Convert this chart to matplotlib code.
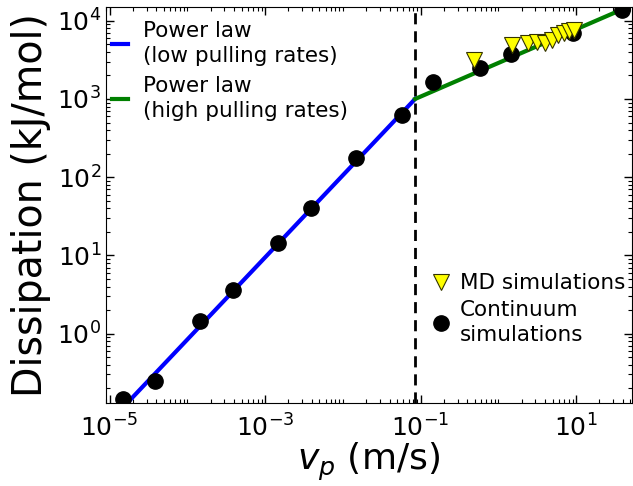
import matplotlib
matplotlib.use("Agg")
import matplotlib.pyplot as plt
import numpy as np
from matplotlib.lines import Line2D
from matplotlib.ticker import LogLocator, FixedLocator, NullFormatter

# Continuum simulations
cont_v = [1.5e-5, 3.85e-5, 1.46e-4, 3.9e-4, 1.47e-3, 3.9e-3, 0.0148, 0.058,
          0.145, 0.58, 1.46, 9.1, 39]
cont_d = [0.147, 0.25, 1.43, 3.66, 14.3, 40, 175, 624,
          1650, 2500, 3780, 7000, 13800]

# MD simulations
md_v = [0.49, 1.5, 2.42, 3.15, 4.0, 4.9, 5.9, 7.0, 8.1, 9.4]
md_d = [3160, 4920, 5220, 5380, 5220, 5700, 6620, 7020, 7450, 7670]

# Power law fits (crossover at v_c)
v_c = 0.085
d_c = 1000.0
exp_low = 1.05
exp_high = 0.43

x_major = [1e-5, 1e-3, 1e-1, 1e1]

plt.rcParams['font.family'] = ['DejaVu Sans']
plt.rcParams['mathtext.fontset'] = 'dejavusans'

fig = plt.figure(figsize=(6.33, 4.86), dpi=100)
ax = fig.add_axes([0.1675, 0.171, 0.8305, 0.8146])

v_low = np.logspace(-6, np.log10(v_c), 50)
v_high = np.logspace(np.log10(v_c), 2, 50)
ax.plot(v_low, d_c * (v_low / v_c) ** exp_low, color='#0000ff', lw=3,
        label='Power law\n(low pulling rates)', zorder=2)
ax.plot(v_high, d_c * (v_high / v_c) ** exp_high, color='#008000', lw=3,
        label='Power law\n(high pulling rates)', zorder=2)
ax.axvline(v_c, color='black', ls='--', lw=2, dashes=(4, 2.5), zorder=1)

ax.plot(cont_v, cont_d, 'o', color='black', ms=11, zorder=3)
ax.plot(md_v, md_d, 'v', color='yellow', mec='#333300', mew=0.8, ms=11, zorder=4)

ax.set_xscale('log')
ax.set_yscale('log')
ax.set_xlim(9e-6, 52)
ax.set_ylim(0.13, 1.5e4)
ax.xaxis.set_major_locator(FixedLocator(x_major))
ax.xaxis.set_minor_locator(LogLocator(base=10, subs=np.arange(1, 10), numticks=30))
ax.xaxis.set_minor_formatter(NullFormatter())
ax.yaxis.set_minor_formatter(NullFormatter())

ax.tick_params(which='both', direction='in', top=True, right=True, labelsize=18)
ax.tick_params(which='major', length=6, width=1)
ax.tick_params(which='minor', length=3, width=0.8)
ax.tick_params(axis='x', pad=8)

ax.set_xlabel(r'$v_p$ (m/s)', fontsize=26, labelpad=0)
ax.set_ylabel('Dissipation (kJ/mol)', fontsize=28.5, labelpad=4)

leg1 = ax.legend(loc='upper left', bbox_to_anchor=(0.0, 0.981), frameon=False,
                 fontsize=15.5, handlelength=0.7, handletextpad=0.7,
                 borderaxespad=0.0, borderpad=0.3, labelspacing=0.45)
for l in leg1.get_lines():
    l.set_linewidth(3)
for t in leg1.get_texts():
    t.set_linespacing(1.33)
ax.add_artist(leg1)

handles = [Line2D([], [], ls='none', marker='v', color='yellow', mec='#333300', mew=0.8, ms=11),
           Line2D([], [], ls='none', marker='o', color='black', ms=11)]
leg2 = ax.legend(handles, ['MD simulations', 'Continuum\nsimulations'], loc='lower right',
                 bbox_to_anchor=(1.0, 0.13), frameon=False, fontsize=15.5, handlelength=0.6,
                 handletextpad=0.6, borderaxespad=0.0, borderpad=0.3, labelspacing=0.3)
for t in leg2.get_texts():
    t.set_linespacing(1.33)

fig.savefig('out.png', dpi=100)
